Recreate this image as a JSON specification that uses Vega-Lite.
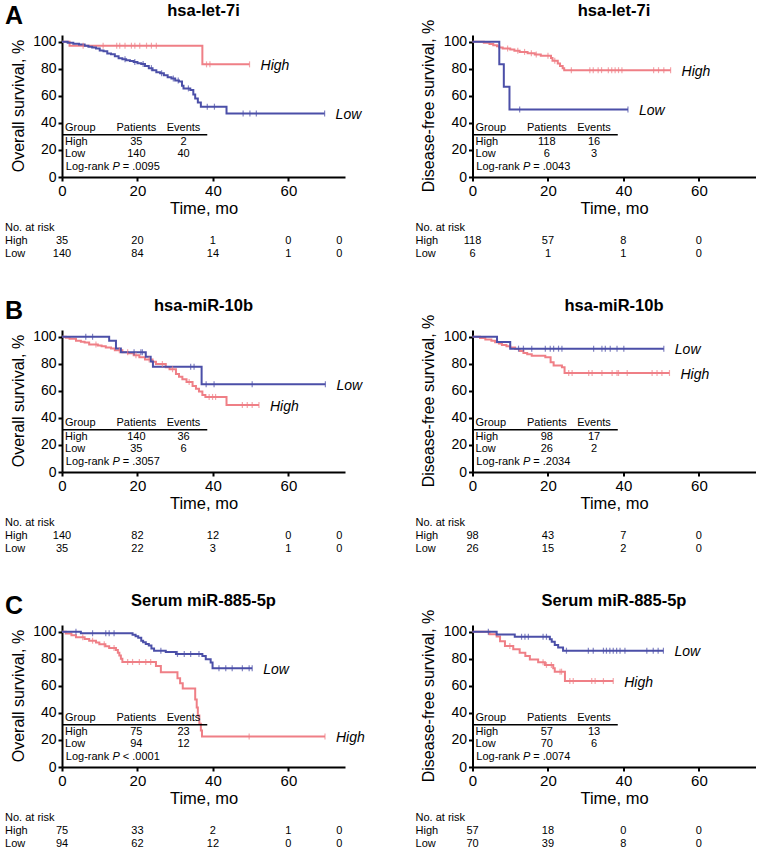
{
"$schema":"https://vega.github.io/schema/vega-lite/v6.json",
"padding":{"left":5,"top":3,"right":0,"bottom":0},
"data":{"values":[
{"k":"m","r":"A","m":"OS","title":"hsa-let-7i","yt":"Overall survival, %","letter":"A","pv":"= .0095","hn":35,"he":2,"ln":140,"le":40},
{"k":"m","r":"A","m":"DFS","title":"hsa-let-7i","yt":"Disease-free survival, %","letter":"","pv":"= .0043","hn":118,"he":16,"ln":6,"le":3},
{"k":"m","r":"B","m":"OS","title":"hsa-miR-10b","yt":"Overall survival, %","letter":"B","pv":"= .3057","hn":140,"he":36,"ln":35,"le":6},
{"k":"m","r":"B","m":"DFS","title":"hsa-miR-10b","yt":"Disease-free survival, %","letter":"","pv":"= .2034","hn":98,"he":17,"ln":26,"le":2},
{"k":"m","r":"C","m":"OS","title":"Serum miR-885-5p","yt":"Overall survival, %","letter":"C","pv":"< .0001","hn":75,"he":23,"ln":94,"le":12},
{"k":"m","r":"C","m":"DFS","title":"Serum miR-885-5p","yt":"Disease-free survival, %","letter":"","pv":"= .0074","hn":57,"he":13,"ln":70,"le":6},

{"k":"a","r":"A","m":"OS","g":"High","t":0,"n":35},{"k":"a","r":"A","m":"OS","g":"High","t":20,"n":20},{"k":"a","r":"A","m":"OS","g":"High","t":40,"n":1},{"k":"a","r":"A","m":"OS","g":"High","t":60,"n":0},{"k":"a","r":"A","m":"OS","g":"High","t":73.5,"n":0},
{"k":"a","r":"A","m":"OS","g":"Low","t":0,"n":140},{"k":"a","r":"A","m":"OS","g":"Low","t":20,"n":84},{"k":"a","r":"A","m":"OS","g":"Low","t":40,"n":14},{"k":"a","r":"A","m":"OS","g":"Low","t":60,"n":1},{"k":"a","r":"A","m":"OS","g":"Low","t":73.5,"n":0},
{"k":"a","r":"A","m":"DFS","g":"High","t":0,"n":118},{"k":"a","r":"A","m":"DFS","g":"High","t":20,"n":57},{"k":"a","r":"A","m":"DFS","g":"High","t":40,"n":8},{"k":"a","r":"A","m":"DFS","g":"High","t":60,"n":0},
{"k":"a","r":"A","m":"DFS","g":"Low","t":0,"n":6},{"k":"a","r":"A","m":"DFS","g":"Low","t":20,"n":1},{"k":"a","r":"A","m":"DFS","g":"Low","t":40,"n":1},{"k":"a","r":"A","m":"DFS","g":"Low","t":60,"n":0},
{"k":"a","r":"B","m":"OS","g":"High","t":0,"n":140},{"k":"a","r":"B","m":"OS","g":"High","t":20,"n":82},{"k":"a","r":"B","m":"OS","g":"High","t":40,"n":12},{"k":"a","r":"B","m":"OS","g":"High","t":60,"n":0},{"k":"a","r":"B","m":"OS","g":"High","t":73.5,"n":0},
{"k":"a","r":"B","m":"OS","g":"Low","t":0,"n":35},{"k":"a","r":"B","m":"OS","g":"Low","t":20,"n":22},{"k":"a","r":"B","m":"OS","g":"Low","t":40,"n":3},{"k":"a","r":"B","m":"OS","g":"Low","t":60,"n":1},{"k":"a","r":"B","m":"OS","g":"Low","t":73.5,"n":0},
{"k":"a","r":"B","m":"DFS","g":"High","t":0,"n":98},{"k":"a","r":"B","m":"DFS","g":"High","t":20,"n":43},{"k":"a","r":"B","m":"DFS","g":"High","t":40,"n":7},{"k":"a","r":"B","m":"DFS","g":"High","t":60,"n":0},
{"k":"a","r":"B","m":"DFS","g":"Low","t":0,"n":26},{"k":"a","r":"B","m":"DFS","g":"Low","t":20,"n":15},{"k":"a","r":"B","m":"DFS","g":"Low","t":40,"n":2},{"k":"a","r":"B","m":"DFS","g":"Low","t":60,"n":0},
{"k":"a","r":"C","m":"OS","g":"High","t":0,"n":75},{"k":"a","r":"C","m":"OS","g":"High","t":20,"n":33},{"k":"a","r":"C","m":"OS","g":"High","t":40,"n":2},{"k":"a","r":"C","m":"OS","g":"High","t":60,"n":1},{"k":"a","r":"C","m":"OS","g":"High","t":73.5,"n":0},
{"k":"a","r":"C","m":"OS","g":"Low","t":0,"n":94},{"k":"a","r":"C","m":"OS","g":"Low","t":20,"n":62},{"k":"a","r":"C","m":"OS","g":"Low","t":40,"n":12},{"k":"a","r":"C","m":"OS","g":"Low","t":60,"n":0},{"k":"a","r":"C","m":"OS","g":"Low","t":73.5,"n":0},
{"k":"a","r":"C","m":"DFS","g":"High","t":0,"n":57},{"k":"a","r":"C","m":"DFS","g":"High","t":20,"n":18},{"k":"a","r":"C","m":"DFS","g":"High","t":40,"n":0},{"k":"a","r":"C","m":"DFS","g":"High","t":60,"n":0},
{"k":"a","r":"C","m":"DFS","g":"Low","t":0,"n":70},{"k":"a","r":"C","m":"DFS","g":"Low","t":20,"n":39},{"k":"a","r":"C","m":"DFS","g":"Low","t":40,"n":8},{"k":"a","r":"C","m":"DFS","g":"Low","t":60,"n":0},

{"k":"c","r":"A","m":"OS","g":"High","t":0,"s":100,"z":0},{"k":"c","r":"A","m":"OS","g":"High","t":2,"s":97.1,"z":0},{"k":"c","r":"A","m":"OS","g":"High","t":5.6,"s":97.1,"z":1},{"k":"c","r":"A","m":"OS","g":"High","t":10.9,"s":97.1,"z":1},{"k":"c","r":"A","m":"OS","g":"High","t":14.5,"s":97.1,"z":1},{"k":"c","r":"A","m":"OS","g":"High","t":15.3,"s":97.1,"z":1},{"k":"c","r":"A","m":"OS","g":"High","t":16.7,"s":97.1,"z":1},{"k":"c","r":"A","m":"OS","g":"High","t":18.4,"s":97.1,"z":1},{"k":"c","r":"A","m":"OS","g":"High","t":19.3,"s":97.1,"z":1},{"k":"c","r":"A","m":"OS","g":"High","t":20.6,"s":97.1,"z":1},{"k":"c","r":"A","m":"OS","g":"High","t":22.4,"s":97.1,"z":1},{"k":"c","r":"A","m":"OS","g":"High","t":23.7,"s":97.1,"z":1},{"k":"c","r":"A","m":"OS","g":"High","t":25,"s":97.1,"z":1},{"k":"c","r":"A","m":"OS","g":"High","t":37.2,"s":83.3,"z":0},{"k":"c","r":"A","m":"OS","g":"High","t":38.3,"s":83.3,"z":1},{"k":"c","r":"A","m":"OS","g":"High","t":39.2,"s":83.3,"z":1},{"k":"c","r":"A","m":"OS","g":"High","t":49.7,"s":83.3,"z":1},
{"k":"c","r":"A","m":"OS","g":"Low","t":0,"s":100,"z":0},{"k":"c","r":"A","m":"OS","g":"Low","t":1.5,"s":99.3,"z":0},{"k":"c","r":"A","m":"OS","g":"Low","t":3,"s":98.6,"z":0},{"k":"c","r":"A","m":"OS","g":"Low","t":4.5,"s":97.9,"z":0},{"k":"c","r":"A","m":"OS","g":"Low","t":6,"s":97.1,"z":0},{"k":"c","r":"A","m":"OS","g":"Low","t":7,"s":96.4,"z":0},{"k":"c","r":"A","m":"OS","g":"Low","t":8,"s":95.7,"z":0},{"k":"c","r":"A","m":"OS","g":"Low","t":9,"s":95,"z":0},{"k":"c","r":"A","m":"OS","g":"Low","t":10,"s":93.6,"z":0},{"k":"c","r":"A","m":"OS","g":"Low","t":11,"s":92.9,"z":0},{"k":"c","r":"A","m":"OS","g":"Low","t":12,"s":91.4,"z":0},{"k":"c","r":"A","m":"OS","g":"Low","t":13,"s":90.7,"z":0},{"k":"c","r":"A","m":"OS","g":"Low","t":14,"s":89.3,"z":0},{"k":"c","r":"A","m":"OS","g":"Low","t":15,"s":87.9,"z":0},{"k":"c","r":"A","m":"OS","g":"Low","t":16,"s":87.1,"z":0},{"k":"c","r":"A","m":"OS","g":"Low","t":16.7,"s":87.1,"z":1},{"k":"c","r":"A","m":"OS","g":"Low","t":17,"s":86.4,"z":0},{"k":"c","r":"A","m":"OS","g":"Low","t":18,"s":85.7,"z":0},{"k":"c","r":"A","m":"OS","g":"Low","t":19,"s":85,"z":0},{"k":"c","r":"A","m":"OS","g":"Low","t":19.3,"s":85,"z":1},{"k":"c","r":"A","m":"OS","g":"Low","t":20,"s":84.2,"z":0},{"k":"c","r":"A","m":"OS","g":"Low","t":21,"s":83.5,"z":0},{"k":"c","r":"A","m":"OS","g":"Low","t":21.5,"s":83.5,"z":1},{"k":"c","r":"A","m":"OS","g":"Low","t":22,"s":82,"z":0},{"k":"c","r":"A","m":"OS","g":"Low","t":23,"s":80.5,"z":0},{"k":"c","r":"A","m":"OS","g":"Low","t":23.7,"s":80.5,"z":1},{"k":"c","r":"A","m":"OS","g":"Low","t":24,"s":79,"z":0},{"k":"c","r":"A","m":"OS","g":"Low","t":25,"s":77.5,"z":0},{"k":"c","r":"A","m":"OS","g":"Low","t":26,"s":76.7,"z":0},{"k":"c","r":"A","m":"OS","g":"Low","t":26.4,"s":76.7,"z":1},{"k":"c","r":"A","m":"OS","g":"Low","t":27,"s":75.2,"z":0},{"k":"c","r":"A","m":"OS","g":"Low","t":28,"s":73.7,"z":0},{"k":"c","r":"A","m":"OS","g":"Low","t":29,"s":72.9,"z":0},{"k":"c","r":"A","m":"OS","g":"Low","t":29.5,"s":72.9,"z":1},{"k":"c","r":"A","m":"OS","g":"Low","t":30,"s":71.4,"z":0},{"k":"c","r":"A","m":"OS","g":"Low","t":30.8,"s":71.4,"z":1},{"k":"c","r":"A","m":"OS","g":"Low","t":31,"s":70.6,"z":0},{"k":"c","r":"A","m":"OS","g":"Low","t":31.8,"s":67.5,"z":0},{"k":"c","r":"A","m":"OS","g":"Low","t":32.2,"s":65.5,"z":0},{"k":"c","r":"A","m":"OS","g":"Low","t":33.5,"s":65.5,"z":1},{"k":"c","r":"A","m":"OS","g":"Low","t":34,"s":64.3,"z":0},{"k":"c","r":"A","m":"OS","g":"Low","t":34.8,"s":61,"z":0},{"k":"c","r":"A","m":"OS","g":"Low","t":35.3,"s":58,"z":0},{"k":"c","r":"A","m":"OS","g":"Low","t":36,"s":55,"z":0},{"k":"c","r":"A","m":"OS","g":"Low","t":36.8,"s":52,"z":0},{"k":"c","r":"A","m":"OS","g":"Low","t":38.5,"s":52,"z":1},{"k":"c","r":"A","m":"OS","g":"Low","t":40.4,"s":52,"z":1},{"k":"c","r":"A","m":"OS","g":"Low","t":43.6,"s":47,"z":0},{"k":"c","r":"A","m":"OS","g":"Low","t":48,"s":47,"z":1},{"k":"c","r":"A","m":"OS","g":"Low","t":49.8,"s":47,"z":1},{"k":"c","r":"A","m":"OS","g":"Low","t":51.5,"s":47,"z":1},{"k":"c","r":"A","m":"OS","g":"Low","t":69.6,"s":47,"z":1},

{"k":"c","r":"A","m":"DFS","g":"High","t":0,"s":100,"z":0},{"k":"c","r":"A","m":"DFS","g":"High","t":3,"s":99.2,"z":0},{"k":"c","r":"A","m":"DFS","g":"High","t":4.5,"s":98.3,"z":0},{"k":"c","r":"A","m":"DFS","g":"High","t":5.5,"s":97.5,"z":0},{"k":"c","r":"A","m":"DFS","g":"High","t":6.5,"s":96.6,"z":0},{"k":"c","r":"A","m":"DFS","g":"High","t":7.1,"s":95.8,"z":0},{"k":"c","r":"A","m":"DFS","g":"High","t":8,"s":95,"z":0},{"k":"c","r":"A","m":"DFS","g":"High","t":9.3,"s":95,"z":1},{"k":"c","r":"A","m":"DFS","g":"High","t":10,"s":94.2,"z":0},{"k":"c","r":"A","m":"DFS","g":"High","t":11.1,"s":93.3,"z":0},{"k":"c","r":"A","m":"DFS","g":"High","t":12,"s":93.3,"z":1},{"k":"c","r":"A","m":"DFS","g":"High","t":12.5,"s":92.5,"z":0},{"k":"c","r":"A","m":"DFS","g":"High","t":13.8,"s":92.5,"z":1},{"k":"c","r":"A","m":"DFS","g":"High","t":14.6,"s":91.5,"z":0},{"k":"c","r":"A","m":"DFS","g":"High","t":15.6,"s":91.5,"z":1},{"k":"c","r":"A","m":"DFS","g":"High","t":16.5,"s":90.6,"z":0},{"k":"c","r":"A","m":"DFS","g":"High","t":16.9,"s":90.6,"z":1},{"k":"c","r":"A","m":"DFS","g":"High","t":18.1,"s":89.7,"z":0},{"k":"c","r":"A","m":"DFS","g":"High","t":20,"s":89.7,"z":1},{"k":"c","r":"A","m":"DFS","g":"High","t":20.8,"s":88,"z":0},{"k":"c","r":"A","m":"DFS","g":"High","t":21.2,"s":86,"z":0},{"k":"c","r":"A","m":"DFS","g":"High","t":21.8,"s":86,"z":1},{"k":"c","r":"A","m":"DFS","g":"High","t":22.6,"s":84,"z":0},{"k":"c","r":"A","m":"DFS","g":"High","t":23.2,"s":82,"z":0},{"k":"c","r":"A","m":"DFS","g":"High","t":23.9,"s":80.5,"z":0},{"k":"c","r":"A","m":"DFS","g":"High","t":24.3,"s":79,"z":0},{"k":"c","r":"A","m":"DFS","g":"High","t":26.2,"s":79,"z":1},{"k":"c","r":"A","m":"DFS","g":"High","t":31.1,"s":79,"z":1},{"k":"c","r":"A","m":"DFS","g":"High","t":32,"s":79,"z":1},{"k":"c","r":"A","m":"DFS","g":"High","t":33.3,"s":79,"z":1},{"k":"c","r":"A","m":"DFS","g":"High","t":34.2,"s":79,"z":1},{"k":"c","r":"A","m":"DFS","g":"High","t":36,"s":79,"z":1},{"k":"c","r":"A","m":"DFS","g":"High","t":36.9,"s":79,"z":1},{"k":"c","r":"A","m":"DFS","g":"High","t":37.8,"s":79,"z":1},{"k":"c","r":"A","m":"DFS","g":"High","t":38.7,"s":79,"z":1},{"k":"c","r":"A","m":"DFS","g":"High","t":39.6,"s":79,"z":1},{"k":"c","r":"A","m":"DFS","g":"High","t":48,"s":79,"z":1},{"k":"c","r":"A","m":"DFS","g":"High","t":49.3,"s":79,"z":1},{"k":"c","r":"A","m":"DFS","g":"High","t":50.7,"s":79,"z":1},{"k":"c","r":"A","m":"DFS","g":"High","t":52.5,"s":79,"z":1},
{"k":"c","r":"A","m":"DFS","g":"Low","t":0,"s":100,"z":0},{"k":"c","r":"A","m":"DFS","g":"Low","t":7.1,"s":83.3,"z":0},{"k":"c","r":"A","m":"DFS","g":"Low","t":8.3,"s":66.7,"z":0},{"k":"c","r":"A","m":"DFS","g":"Low","t":9.8,"s":50,"z":0},{"k":"c","r":"A","m":"DFS","g":"Low","t":12.5,"s":50,"z":1},{"k":"c","r":"A","m":"DFS","g":"Low","t":41.2,"s":50,"z":1},

{"k":"c","r":"B","m":"OS","g":"High","t":0,"s":100,"z":0},{"k":"c","r":"B","m":"OS","g":"High","t":1,"s":99.3,"z":0},{"k":"c","r":"B","m":"OS","g":"High","t":2,"s":98.6,"z":0},{"k":"c","r":"B","m":"OS","g":"High","t":3.7,"s":97.1,"z":0},{"k":"c","r":"B","m":"OS","g":"High","t":5,"s":96.4,"z":0},{"k":"c","r":"B","m":"OS","g":"High","t":6,"s":95.7,"z":0},{"k":"c","r":"B","m":"OS","g":"High","t":7.2,"s":94.3,"z":0},{"k":"c","r":"B","m":"OS","g":"High","t":9,"s":94.3,"z":1},{"k":"c","r":"B","m":"OS","g":"High","t":9.5,"s":93.6,"z":0},{"k":"c","r":"B","m":"OS","g":"High","t":10.5,"s":92.9,"z":0},{"k":"c","r":"B","m":"OS","g":"High","t":11.6,"s":92.1,"z":0},{"k":"c","r":"B","m":"OS","g":"High","t":13,"s":91.4,"z":0},{"k":"c","r":"B","m":"OS","g":"High","t":14,"s":90,"z":0},{"k":"c","r":"B","m":"OS","g":"High","t":15.2,"s":90,"z":1},{"k":"c","r":"B","m":"OS","g":"High","t":16,"s":88.6,"z":0},{"k":"c","r":"B","m":"OS","g":"High","t":17.4,"s":88.6,"z":1},{"k":"c","r":"B","m":"OS","g":"High","t":17.5,"s":87.8,"z":0},{"k":"c","r":"B","m":"OS","g":"High","t":19,"s":86.4,"z":0},{"k":"c","r":"B","m":"OS","g":"High","t":19.6,"s":86.4,"z":1},{"k":"c","r":"B","m":"OS","g":"High","t":20.5,"s":84.8,"z":0},{"k":"c","r":"B","m":"OS","g":"High","t":22,"s":83.2,"z":0},{"k":"c","r":"B","m":"OS","g":"High","t":23.1,"s":83.2,"z":1},{"k":"c","r":"B","m":"OS","g":"High","t":24,"s":81.5,"z":0},{"k":"c","r":"B","m":"OS","g":"High","t":24.9,"s":79.8,"z":0},{"k":"c","r":"B","m":"OS","g":"High","t":26.6,"s":79.8,"z":1},{"k":"c","r":"B","m":"OS","g":"High","t":27.5,"s":77.5,"z":0},{"k":"c","r":"B","m":"OS","g":"High","t":28.5,"s":76,"z":0},{"k":"c","r":"B","m":"OS","g":"High","t":29.3,"s":76,"z":1},{"k":"c","r":"B","m":"OS","g":"High","t":30.2,"s":72.5,"z":0},{"k":"c","r":"B","m":"OS","g":"High","t":31,"s":70.5,"z":0},{"k":"c","r":"B","m":"OS","g":"High","t":31.9,"s":68.5,"z":0},{"k":"c","r":"B","m":"OS","g":"High","t":33,"s":66.5,"z":0},{"k":"c","r":"B","m":"OS","g":"High","t":33.7,"s":66.5,"z":1},{"k":"c","r":"B","m":"OS","g":"High","t":34.6,"s":63.5,"z":0},{"k":"c","r":"B","m":"OS","g":"High","t":35.5,"s":61.5,"z":0},{"k":"c","r":"B","m":"OS","g":"High","t":36.3,"s":59.5,"z":0},{"k":"c","r":"B","m":"OS","g":"High","t":37.2,"s":57,"z":0},{"k":"c","r":"B","m":"OS","g":"High","t":38,"s":55.5,"z":0},{"k":"c","r":"B","m":"OS","g":"High","t":39,"s":55.5,"z":1},{"k":"c","r":"B","m":"OS","g":"High","t":39.9,"s":55.5,"z":1},{"k":"c","r":"B","m":"OS","g":"High","t":40.7,"s":55.5,"z":1},{"k":"c","r":"B","m":"OS","g":"High","t":43.6,"s":49.5,"z":0},{"k":"c","r":"B","m":"OS","g":"High","t":47.8,"s":49.5,"z":1},{"k":"c","r":"B","m":"OS","g":"High","t":49.1,"s":49.5,"z":1},{"k":"c","r":"B","m":"OS","g":"High","t":50.4,"s":49.5,"z":1},{"k":"c","r":"B","m":"OS","g":"High","t":52.2,"s":49.5,"z":1},
{"k":"c","r":"B","m":"OS","g":"Low","t":0,"s":100,"z":0},{"k":"c","r":"B","m":"OS","g":"Low","t":6.3,"s":100,"z":1},{"k":"c","r":"B","m":"OS","g":"Low","t":8.1,"s":100,"z":1},{"k":"c","r":"B","m":"OS","g":"Low","t":12.5,"s":97.1,"z":0},{"k":"c","r":"B","m":"OS","g":"Low","t":14.3,"s":91.4,"z":0},{"k":"c","r":"B","m":"OS","g":"Low","t":15.6,"s":88.6,"z":0},{"k":"c","r":"B","m":"OS","g":"Low","t":19.1,"s":88.6,"z":1},{"k":"c","r":"B","m":"OS","g":"Low","t":20.9,"s":88.6,"z":1},{"k":"c","r":"B","m":"OS","g":"Low","t":21.3,"s":88.6,"z":1},{"k":"c","r":"B","m":"OS","g":"Low","t":22.2,"s":85.3,"z":0},{"k":"c","r":"B","m":"OS","g":"Low","t":23.5,"s":81.7,"z":0},{"k":"c","r":"B","m":"OS","g":"Low","t":24.1,"s":77.8,"z":0},{"k":"c","r":"B","m":"OS","g":"Low","t":34.1,"s":77.8,"z":1},{"k":"c","r":"B","m":"OS","g":"Low","t":35,"s":77.8,"z":1},{"k":"c","r":"B","m":"OS","g":"Low","t":37,"s":64.8,"z":0},{"k":"c","r":"B","m":"OS","g":"Low","t":38.2,"s":64.8,"z":1},{"k":"c","r":"B","m":"OS","g":"Low","t":40.3,"s":64.8,"z":1},{"k":"c","r":"B","m":"OS","g":"Low","t":50.4,"s":64.8,"z":1},{"k":"c","r":"B","m":"OS","g":"Low","t":69.8,"s":64.8,"z":1},

{"k":"c","r":"B","m":"DFS","g":"High","t":0,"s":100,"z":0},{"k":"c","r":"B","m":"DFS","g":"High","t":2,"s":99,"z":0},{"k":"c","r":"B","m":"DFS","g":"High","t":3.4,"s":98,"z":0},{"k":"c","r":"B","m":"DFS","g":"High","t":5,"s":97,"z":0},{"k":"c","r":"B","m":"DFS","g":"High","t":6,"s":96,"z":0},{"k":"c","r":"B","m":"DFS","g":"High","t":7,"s":95,"z":0},{"k":"c","r":"B","m":"DFS","g":"High","t":7.8,"s":94,"z":0},{"k":"c","r":"B","m":"DFS","g":"High","t":9,"s":93,"z":0},{"k":"c","r":"B","m":"DFS","g":"High","t":10,"s":92,"z":0},{"k":"c","r":"B","m":"DFS","g":"High","t":11.3,"s":91,"z":0},{"k":"c","r":"B","m":"DFS","g":"High","t":12.5,"s":89.5,"z":0},{"k":"c","r":"B","m":"DFS","g":"High","t":13.5,"s":88,"z":0},{"k":"c","r":"B","m":"DFS","g":"High","t":14.5,"s":87,"z":0},{"k":"c","r":"B","m":"DFS","g":"High","t":15.7,"s":86,"z":0},{"k":"c","r":"B","m":"DFS","g":"High","t":19.3,"s":84.9,"z":0},{"k":"c","r":"B","m":"DFS","g":"High","t":20.7,"s":81.2,"z":0},{"k":"c","r":"B","m":"DFS","g":"High","t":21.5,"s":78.8,"z":0},{"k":"c","r":"B","m":"DFS","g":"High","t":23.7,"s":77.5,"z":0},{"k":"c","r":"B","m":"DFS","g":"High","t":24.4,"s":73.2,"z":0},{"k":"c","r":"B","m":"DFS","g":"High","t":25.5,"s":73.2,"z":1},{"k":"c","r":"B","m":"DFS","g":"High","t":26.4,"s":73.2,"z":1},{"k":"c","r":"B","m":"DFS","g":"High","t":30.8,"s":73.2,"z":1},{"k":"c","r":"B","m":"DFS","g":"High","t":31.7,"s":73.2,"z":1},{"k":"c","r":"B","m":"DFS","g":"High","t":34.3,"s":73.2,"z":1},{"k":"c","r":"B","m":"DFS","g":"High","t":37,"s":73.2,"z":1},{"k":"c","r":"B","m":"DFS","g":"High","t":38.3,"s":73.2,"z":1},{"k":"c","r":"B","m":"DFS","g":"High","t":38.7,"s":73.2,"z":1},{"k":"c","r":"B","m":"DFS","g":"High","t":41,"s":73.2,"z":1},{"k":"c","r":"B","m":"DFS","g":"High","t":47.6,"s":73.2,"z":1},{"k":"c","r":"B","m":"DFS","g":"High","t":48.9,"s":73.2,"z":1},{"k":"c","r":"B","m":"DFS","g":"High","t":50.2,"s":73.2,"z":1},{"k":"c","r":"B","m":"DFS","g":"High","t":52.2,"s":73.2,"z":1},
{"k":"c","r":"B","m":"DFS","g":"Low","t":0,"s":100,"z":0},{"k":"c","r":"B","m":"DFS","g":"Low","t":6.5,"s":96.2,"z":0},{"k":"c","r":"B","m":"DFS","g":"Low","t":10,"s":91.2,"z":0},{"k":"c","r":"B","m":"DFS","g":"Low","t":12.2,"s":91.2,"z":1},{"k":"c","r":"B","m":"DFS","g":"Low","t":13.5,"s":91.2,"z":1},{"k":"c","r":"B","m":"DFS","g":"Low","t":15.7,"s":91.2,"z":1},{"k":"c","r":"B","m":"DFS","g":"Low","t":19.3,"s":91.2,"z":1},{"k":"c","r":"B","m":"DFS","g":"Low","t":20.6,"s":91.2,"z":1},{"k":"c","r":"B","m":"DFS","g":"Low","t":21.5,"s":91.2,"z":1},{"k":"c","r":"B","m":"DFS","g":"Low","t":22.8,"s":91.2,"z":1},{"k":"c","r":"B","m":"DFS","g":"Low","t":23.7,"s":91.2,"z":1},{"k":"c","r":"B","m":"DFS","g":"Low","t":32.1,"s":91.2,"z":1},{"k":"c","r":"B","m":"DFS","g":"Low","t":34.3,"s":91.2,"z":1},{"k":"c","r":"B","m":"DFS","g":"Low","t":35.2,"s":91.2,"z":1},{"k":"c","r":"B","m":"DFS","g":"Low","t":36.5,"s":91.2,"z":1},{"k":"c","r":"B","m":"DFS","g":"Low","t":38.3,"s":91.2,"z":1},{"k":"c","r":"B","m":"DFS","g":"Low","t":40.1,"s":91.2,"z":1},{"k":"c","r":"B","m":"DFS","g":"Low","t":50.7,"s":91.2,"z":1},

{"k":"c","r":"C","m":"OS","g":"High","t":0,"s":100,"z":0},{"k":"c","r":"C","m":"OS","g":"High","t":1,"s":98.7,"z":0},{"k":"c","r":"C","m":"OS","g":"High","t":2.5,"s":97.4,"z":0},{"k":"c","r":"C","m":"OS","g":"High","t":3.7,"s":96,"z":0},{"k":"c","r":"C","m":"OS","g":"High","t":5.5,"s":96,"z":1},{"k":"c","r":"C","m":"OS","g":"High","t":6,"s":94.7,"z":0},{"k":"c","r":"C","m":"OS","g":"High","t":7.2,"s":93.4,"z":0},{"k":"c","r":"C","m":"OS","g":"High","t":8.1,"s":93.4,"z":1},{"k":"c","r":"C","m":"OS","g":"High","t":9,"s":92,"z":0},{"k":"c","r":"C","m":"OS","g":"High","t":9.9,"s":90.7,"z":0},{"k":"c","r":"C","m":"OS","g":"High","t":11.2,"s":90.7,"z":1},{"k":"c","r":"C","m":"OS","g":"High","t":11.5,"s":89.3,"z":0},{"k":"c","r":"C","m":"OS","g":"High","t":12.5,"s":88,"z":0},{"k":"c","r":"C","m":"OS","g":"High","t":13.8,"s":88,"z":1},{"k":"c","r":"C","m":"OS","g":"High","t":14.3,"s":86.5,"z":0},{"k":"c","r":"C","m":"OS","g":"High","t":14.8,"s":84.5,"z":0},{"k":"c","r":"C","m":"OS","g":"High","t":15.2,"s":82.5,"z":0},{"k":"c","r":"C","m":"OS","g":"High","t":15.6,"s":80,"z":0},{"k":"c","r":"C","m":"OS","g":"High","t":16,"s":77.7,"z":0},{"k":"c","r":"C","m":"OS","g":"High","t":17.4,"s":77.7,"z":1},{"k":"c","r":"C","m":"OS","g":"High","t":18.7,"s":77.7,"z":1},{"k":"c","r":"C","m":"OS","g":"High","t":20.5,"s":77.7,"z":1},{"k":"c","r":"C","m":"OS","g":"High","t":22.2,"s":77.7,"z":1},{"k":"c","r":"C","m":"OS","g":"High","t":23.5,"s":77.7,"z":1},{"k":"c","r":"C","m":"OS","g":"High","t":24.9,"s":74.6,"z":0},{"k":"c","r":"C","m":"OS","g":"High","t":26.2,"s":70,"z":0},{"k":"c","r":"C","m":"OS","g":"High","t":30.6,"s":65.7,"z":0},{"k":"c","r":"C","m":"OS","g":"High","t":31.3,"s":62,"z":0},{"k":"c","r":"C","m":"OS","g":"High","t":32,"s":58.1,"z":0},{"k":"c","r":"C","m":"OS","g":"High","t":35.3,"s":50,"z":0},{"k":"c","r":"C","m":"OS","g":"High","t":35.7,"s":44,"z":0},{"k":"c","r":"C","m":"OS","g":"High","t":36,"s":38,"z":0},{"k":"c","r":"C","m":"OS","g":"High","t":36.4,"s":32,"z":0},{"k":"c","r":"C","m":"OS","g":"High","t":36.8,"s":27,"z":0},{"k":"c","r":"C","m":"OS","g":"High","t":37.1,"s":22.5,"z":0},{"k":"c","r":"C","m":"OS","g":"High","t":49.6,"s":22.5,"z":1},{"k":"c","r":"C","m":"OS","g":"High","t":69.7,"s":22.5,"z":1},
{"k":"c","r":"C","m":"OS","g":"Low","t":0,"s":100,"z":0},{"k":"c","r":"C","m":"OS","g":"Low","t":3.7,"s":100,"z":1},{"k":"c","r":"C","m":"OS","g":"Low","t":5,"s":98.9,"z":0},{"k":"c","r":"C","m":"OS","g":"Low","t":8.1,"s":98.9,"z":1},{"k":"c","r":"C","m":"OS","g":"Low","t":11.6,"s":98.9,"z":1},{"k":"c","r":"C","m":"OS","g":"Low","t":12.5,"s":98.9,"z":1},{"k":"c","r":"C","m":"OS","g":"Low","t":13.8,"s":98.9,"z":1},{"k":"c","r":"C","m":"OS","g":"Low","t":18.7,"s":97.8,"z":0},{"k":"c","r":"C","m":"OS","g":"Low","t":19.5,"s":96.6,"z":0},{"k":"c","r":"C","m":"OS","g":"Low","t":20.2,"s":95.5,"z":0},{"k":"c","r":"C","m":"OS","g":"Low","t":21,"s":93.3,"z":0},{"k":"c","r":"C","m":"OS","g":"Low","t":21.5,"s":92.2,"z":0},{"k":"c","r":"C","m":"OS","g":"Low","t":22.2,"s":91,"z":0},{"k":"c","r":"C","m":"OS","g":"Low","t":23,"s":89.8,"z":0},{"k":"c","r":"C","m":"OS","g":"Low","t":23.7,"s":87.6,"z":0},{"k":"c","r":"C","m":"OS","g":"Low","t":24.4,"s":86,"z":0},{"k":"c","r":"C","m":"OS","g":"Low","t":26.2,"s":86,"z":1},{"k":"c","r":"C","m":"OS","g":"Low","t":27.5,"s":85,"z":0},{"k":"c","r":"C","m":"OS","g":"Low","t":30.2,"s":83.6,"z":0},{"k":"c","r":"C","m":"OS","g":"Low","t":30.6,"s":83.6,"z":1},{"k":"c","r":"C","m":"OS","g":"Low","t":32.4,"s":83.6,"z":1},{"k":"c","r":"C","m":"OS","g":"Low","t":34.1,"s":83.6,"z":1},{"k":"c","r":"C","m":"OS","g":"Low","t":36.3,"s":83.6,"z":1},{"k":"c","r":"C","m":"OS","g":"Low","t":37.2,"s":82,"z":0},{"k":"c","r":"C","m":"OS","g":"Low","t":38.1,"s":79.7,"z":0},{"k":"c","r":"C","m":"OS","g":"Low","t":39.4,"s":77.2,"z":0},{"k":"c","r":"C","m":"OS","g":"Low","t":39.9,"s":73,"z":0},{"k":"c","r":"C","m":"OS","g":"Low","t":41.6,"s":73,"z":1},{"k":"c","r":"C","m":"OS","g":"Low","t":43.4,"s":73,"z":1},{"k":"c","r":"C","m":"OS","g":"Low","t":45.1,"s":73,"z":1},{"k":"c","r":"C","m":"OS","g":"Low","t":47.8,"s":73,"z":1},{"k":"c","r":"C","m":"OS","g":"Low","t":49.6,"s":73,"z":1},{"k":"c","r":"C","m":"OS","g":"Low","t":50.4,"s":73,"z":1},

{"k":"c","r":"C","m":"DFS","g":"High","t":0,"s":100,"z":0},{"k":"c","r":"C","m":"DFS","g":"High","t":4.5,"s":98.2,"z":0},{"k":"c","r":"C","m":"DFS","g":"High","t":6.4,"s":96.5,"z":0},{"k":"c","r":"C","m":"DFS","g":"High","t":7.3,"s":93,"z":0},{"k":"c","r":"C","m":"DFS","g":"High","t":8.6,"s":89.5,"z":0},{"k":"c","r":"C","m":"DFS","g":"High","t":9.9,"s":89.5,"z":1},{"k":"c","r":"C","m":"DFS","g":"High","t":10.8,"s":87,"z":0},{"k":"c","r":"C","m":"DFS","g":"High","t":12.5,"s":84.5,"z":0},{"k":"c","r":"C","m":"DFS","g":"High","t":14,"s":82,"z":0},{"k":"c","r":"C","m":"DFS","g":"High","t":15.2,"s":79.5,"z":0},{"k":"c","r":"C","m":"DFS","g":"High","t":17.4,"s":77.5,"z":0},{"k":"c","r":"C","m":"DFS","g":"High","t":18.7,"s":77.5,"z":1},{"k":"c","r":"C","m":"DFS","g":"High","t":19.2,"s":75.5,"z":0},{"k":"c","r":"C","m":"DFS","g":"High","t":19.6,"s":75.5,"z":1},{"k":"c","r":"C","m":"DFS","g":"High","t":20.9,"s":75.5,"z":1},{"k":"c","r":"C","m":"DFS","g":"High","t":21.4,"s":73,"z":0},{"k":"c","r":"C","m":"DFS","g":"High","t":21.8,"s":70.5,"z":0},{"k":"c","r":"C","m":"DFS","g":"High","t":23.2,"s":70.5,"z":1},{"k":"c","r":"C","m":"DFS","g":"High","t":23.6,"s":70.5,"z":1},{"k":"c","r":"C","m":"DFS","g":"High","t":24.5,"s":63.5,"z":0},{"k":"c","r":"C","m":"DFS","g":"High","t":25.8,"s":63.5,"z":1},{"k":"c","r":"C","m":"DFS","g":"High","t":26.7,"s":63.5,"z":1},{"k":"c","r":"C","m":"DFS","g":"High","t":31.6,"s":63.5,"z":1},{"k":"c","r":"C","m":"DFS","g":"High","t":32.5,"s":63.5,"z":1},{"k":"c","r":"C","m":"DFS","g":"High","t":34.7,"s":63.5,"z":1},{"k":"c","r":"C","m":"DFS","g":"High","t":37.3,"s":63.5,"z":1},
{"k":"c","r":"C","m":"DFS","g":"Low","t":0,"s":100,"z":0},{"k":"c","r":"C","m":"DFS","g":"Low","t":4.2,"s":100,"z":1},{"k":"c","r":"C","m":"DFS","g":"Low","t":6.4,"s":98,"z":0},{"k":"c","r":"C","m":"DFS","g":"Low","t":11.2,"s":96.3,"z":0},{"k":"c","r":"C","m":"DFS","g":"Low","t":13,"s":96.3,"z":1},{"k":"c","r":"C","m":"DFS","g":"Low","t":13.9,"s":96.3,"z":1},{"k":"c","r":"C","m":"DFS","g":"Low","t":14.8,"s":96.3,"z":1},{"k":"c","r":"C","m":"DFS","g":"Low","t":18.7,"s":96.3,"z":1},{"k":"c","r":"C","m":"DFS","g":"Low","t":19.6,"s":96.3,"z":1},{"k":"c","r":"C","m":"DFS","g":"Low","t":20.5,"s":94.5,"z":0},{"k":"c","r":"C","m":"DFS","g":"Low","t":21,"s":92.7,"z":0},{"k":"c","r":"C","m":"DFS","g":"Low","t":21.8,"s":90.2,"z":0},{"k":"c","r":"C","m":"DFS","g":"Low","t":22.7,"s":88.3,"z":0},{"k":"c","r":"C","m":"DFS","g":"Low","t":24,"s":86,"z":0},{"k":"c","r":"C","m":"DFS","g":"Low","t":24.9,"s":86,"z":1},{"k":"c","r":"C","m":"DFS","g":"Low","t":30.7,"s":86,"z":1},{"k":"c","r":"C","m":"DFS","g":"Low","t":32,"s":86,"z":1},{"k":"c","r":"C","m":"DFS","g":"Low","t":34.7,"s":86,"z":1},{"k":"c","r":"C","m":"DFS","g":"Low","t":35.5,"s":86,"z":1},{"k":"c","r":"C","m":"DFS","g":"Low","t":36.4,"s":86,"z":1},{"k":"c","r":"C","m":"DFS","g":"Low","t":37.3,"s":86,"z":1},{"k":"c","r":"C","m":"DFS","g":"Low","t":38.2,"s":86,"z":1},{"k":"c","r":"C","m":"DFS","g":"Low","t":39.1,"s":86,"z":1},{"k":"c","r":"C","m":"DFS","g":"Low","t":40.4,"s":86,"z":1},{"k":"c","r":"C","m":"DFS","g":"Low","t":46.2,"s":86,"z":1},{"k":"c","r":"C","m":"DFS","g":"Low","t":47.9,"s":86,"z":1},{"k":"c","r":"C","m":"DFS","g":"Low","t":49.2,"s":86,"z":1},{"k":"c","r":"C","m":"DFS","g":"Low","t":50.6,"s":86,"z":1}
]},
"facet":{
 "row":{"field":"r","type":"nominal","header":{"title":null,"labels":false}},
 "column":{"field":"m","type":"nominal","sort":["OS","DFS"],"header":{"title":null,"labels":false}}
},
"spacing":{"row":153,"column":127.5},
"bounds":"flush",
"resolve":{"axis":{"x":"independent","y":"independent"}},
"spec":{
 "width":283,"height":142,
 "layer":[
  {"transform":[{"filter":"datum.k=='c'"}],
   "mark":{"type":"line","interpolate":"step-after","strokeWidth":2},
   "encoding":{
    "x":{"field":"t","type":"quantitative","title":"Time, mo","scale":{"domain":[0,75],"nice":false,"zero":false},"axis":{"values":[0,20,40,60],"titlePadding":2,"labelFontSize":15,"titleFontSize":16.5,"labelFlush":false,"labelOverlap":false}},
    "y":{"field":"s","type":"quantitative","title":null,"scale":{"domain":[0,105],"nice":false},"axis":{"tickCount":6,"labelFontSize":14,"labelFlush":false,"labelOverlap":false}},
    "color":{"field":"g","type":"nominal","scale":{"domain":["High","Low"],"range":["#EF7F86","#4B4FA8"]},"legend":null}}},
  {"transform":[{"filter":"datum.k=='c' && datum.z==1"}],
   "mark":{"type":"tick","orient":"vertical","size":6,"thickness":1.2},
   "encoding":{
    "x":{"field":"t","type":"quantitative","title":"Time, mo"},
    "y":{"field":"s","type":"quantitative","title":null},
    "color":{"field":"g","type":"nominal","legend":null}}},
  {"transform":[{"filter":"datum.k=='c'"}],
   "mark":{"type":"text","align":"left","baseline":"middle","dx":11,"dy":1.5,"fontStyle":"italic","fontSize":14},
   "encoding":{
    "x":{"aggregate":"max","field":"t","type":"quantitative","title":"Time, mo"},
    "y":{"aggregate":{"argmax":"t"},"field":"s","type":"quantitative","title":null},
    "text":{"field":"g","type":"nominal"}}},
  {"transform":[{"filter":"datum.k=='a' && datum.g=='High'"}],
   "mark":{"type":"text","baseline":"middle"},
   "encoding":{"x":{"field":"t","type":"quantitative","title":"Time, mo"},"y":{"datum":-47.3},"text":{"field":"n","type":"quantitative"}}},
  {"transform":[{"filter":"datum.k=='a' && datum.g=='Low'"}],
   "mark":{"type":"text","baseline":"middle"},
   "encoding":{"x":{"field":"t","type":"quantitative","title":"Time, mo"},"y":{"datum":-56.6},"text":{"field":"n","type":"quantitative"}}},
  {"transform":[{"filter":"datum.k=='m'"}],
   "layer":[
    {"mark":{"type":"text","text":"Group","align":"left","baseline":"middle"},"encoding":{"x":{"datum":0.8},"y":{"datum":36.2}}},
    {"mark":{"type":"text","text":"Patients","baseline":"middle"},"encoding":{"x":{"datum":19.7},"y":{"datum":36.2}}},
    {"mark":{"type":"text","text":"Events","baseline":"middle"},"encoding":{"x":{"datum":32.2},"y":{"datum":36.2}}},
    {"mark":{"type":"rule","strokeWidth":1.5,"color":"#000"},"encoding":{"x":{"datum":0},"x2":{"datum":38.5},"y":{"datum":31.2}}},
    {"mark":{"type":"text","text":"High","align":"left","baseline":"middle"},"encoding":{"x":{"datum":0.8},"y":{"datum":26.2}}},
    {"mark":{"type":"text","baseline":"middle"},"encoding":{"x":{"datum":19.7},"y":{"datum":26.2},"text":{"field":"hn","type":"quantitative"}}},
    {"mark":{"type":"text","baseline":"middle"},"encoding":{"x":{"datum":32.2},"y":{"datum":26.2},"text":{"field":"he","type":"quantitative"}}},
    {"mark":{"type":"text","text":"Low","align":"left","baseline":"middle"},"encoding":{"x":{"datum":0.8},"y":{"datum":17}}},
    {"mark":{"type":"text","baseline":"middle"},"encoding":{"x":{"datum":19.7},"y":{"datum":17},"text":{"field":"ln","type":"quantitative"}}},
    {"mark":{"type":"text","baseline":"middle"},"encoding":{"x":{"datum":32.2},"y":{"datum":17},"text":{"field":"le","type":"quantitative"}}},
    {"mark":{"type":"text","text":"Log-rank","align":"left","baseline":"middle"},"encoding":{"x":{"datum":1},"y":{"datum":7.5}}},
    {"mark":{"type":"text","text":"P","align":"left","baseline":"middle","fontStyle":"italic"},"encoding":{"x":{"datum":13.4},"y":{"datum":7.5}}},
    {"mark":{"type":"text","align":"left","baseline":"middle"},"encoding":{"x":{"datum":16.1},"y":{"datum":7.5},"text":{"field":"pv","type":"nominal"}}},
    {"mark":{"type":"text","text":"No. at risk","align":"left","baseline":"middle"},"encoding":{"x":{"datum":-15.1},"y":{"datum":-37.5}}},
    {"mark":{"type":"text","text":"High","align":"left","baseline":"middle"},"encoding":{"x":{"datum":-15.1},"y":{"datum":-47.3}}},
    {"mark":{"type":"text","text":"Low","align":"left","baseline":"middle"},"encoding":{"x":{"datum":-15.1},"y":{"datum":-56.6}}},
    {"mark":{"type":"text","fontWeight":"bold","fontSize":16.5,"baseline":"middle"},"encoding":{"x":{"datum":37.5},"y":{"datum":122.5},"text":{"field":"title","type":"nominal"}}},
    {"mark":{"type":"text","fontSize":16,"angle":270,"baseline":"middle"},"encoding":{"x":{"datum":-11.4},"y":{"datum":52.5},"text":{"field":"yt","type":"nominal"}}},
    {"mark":{"type":"text","fontWeight":"bold","fontSize":25,"align":"left","baseline":"middle"},"encoding":{"x":{"datum":-15.1},"y":{"datum":119},"text":{"field":"letter","type":"nominal"}}}
   ]}
 ]
},
"config":{
 "font":"Liberation Sans",
 "view":{"stroke":null},
 "axis":{"grid":false,"domainColor":"#000","domainWidth":2,"tickColor":"#000","tickWidth":2,"tickSize":4,"labelColor":"#000","titleColor":"#000","titleFontWeight":"normal","labelPadding":2,"labelOverlap":false},
 "axisY":{"labelOverlap":false,"labelFontSize":14,"tickCount":6},
 "text":{"fontSize":11,"color":"#000"}
}
}
